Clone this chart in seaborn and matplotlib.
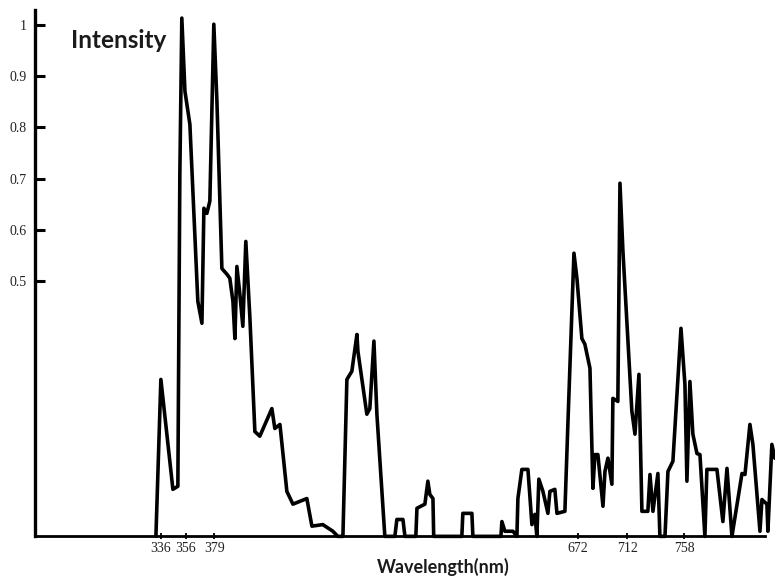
import matplotlib
matplotlib.use("Agg")
import matplotlib.pyplot as plt
import seaborn as sns
import pandas as pd

# ---- data ----
wavelength = [332.0, 336.0, 345.7, 349.7, 351.3, 352.9, 355.4, 359.4, 365.8, 369.1,
              370.7, 373.1, 375.5, 378.7, 381.2, 385.2, 389.2, 391.6, 394.1, 395.7,
              397.3, 399.7, 402.1, 404.5, 407.8, 411.8, 415.8, 425.5, 427.9, 432.0,
              437.6, 442.5, 453.7, 457.8, 466.6, 474.7, 478.7, 482.8, 486.0, 490.0,
              494.1, 494.9, 502.1, 504.5, 507.8, 510.2, 516.6, 524.7, 526.3, 531.2,
              532.8, 541.6, 542.5, 548.9, 551.3, 552.9, 555.4, 556.0, 578.7, 579.5,
              586.8, 587.6, 610.2, 611.0, 613.4, 619.9, 623.1, 623.9, 627.1, 632.0,
              635.2, 637.6, 639.2, 640.8, 644.1, 648.1, 649.7, 653.7, 655.4, 661.8,
              664.2, 669.1, 671.5, 675.5, 677.9, 682.0, 684.4, 686.0, 688.4, 692.5,
              694.1, 696.5, 699.7, 700.5, 704.5, 706.2, 708.6, 715.8, 718.3, 721.5,
              723.9, 728.7, 730.4, 732.8, 736.8, 738.4, 742.5, 744.9, 748.9, 755.4,
              758.6, 760.2, 762.6, 765.0, 768.3, 770.7, 774.7, 776.3, 784.4, 789.2,
              792.5, 796.5, 804.6, 807.0, 811.0, 813.4, 819.1, 820.7, 824.7, 825.5,
              828.7, 831.1]
intensity = [0.0, 0.307, 0.092, 0.098, 0.708, 1.014, 0.871, 0.806, 0.460, 0.417,
             0.642, 0.632, 0.656, 1.002, 0.851, 0.524, 0.513, 0.505, 0.460, 0.387,
             0.528, 0.474, 0.411, 0.577, 0.427, 0.205, 0.196, 0.250, 0.211, 0.219,
             0.088, 0.063, 0.074, 0.020, 0.023, 0.010, 0.0, 0.0, 0.307, 0.323,
             0.395, 0.362, 0.239, 0.250, 0.382, 0.239, 0.0, 0.0, 0.033, 0.033,
             0.0, 0.0, 0.055, 0.063, 0.108, 0.082, 0.074, 0.0, 0.0, 0.045,
             0.045, 0.0, 0.0, 0.029, 0.010, 0.010, 0.0, 0.074, 0.131, 0.131,
             0.023, 0.043, 0.0, 0.112, 0.088, 0.045, 0.088, 0.092, 0.045, 0.049,
             0.219, 0.554, 0.505, 0.387, 0.376, 0.329, 0.094, 0.160, 0.160, 0.059,
             0.127, 0.153, 0.102, 0.270, 0.264, 0.691, 0.558, 0.245, 0.200, 0.317,
             0.049, 0.049, 0.121, 0.049, 0.123, 0.0, 0.0, 0.127, 0.147, 0.407,
             0.297, 0.108, 0.303, 0.200, 0.162, 0.160, 0.0, 0.131, 0.131, 0.029,
             0.133, 0.0, 0.123, 0.121, 0.219, 0.180, 0.010, 0.072, 0.063, 0.010,
             0.180, 0.153]
x_ticks = [336, 356, 379, 672, 712, 758]
y_ticks = [0.5, 0.6, 0.7, 0.8, 0.9, 1.0]
y_tick_labels = ["0.5", "0.6", "0.7", "0.8", "0.9", "1"]
x_label = "Wavelength(nm)"
y_label = "Intensity"

df = pd.DataFrame({"wavelength": wavelength, "intensity": intensity})

sns.set_style("white")
plt.rcParams['font.family'] = ['Liberation Serif', 'DejaVu Serif']

fig = plt.figure(figsize=(7.75, 5.83), dpi=100)
ax = fig.add_axes([0.045, 0.080, 0.942, 0.903])

sns.lineplot(data=df, x="wavelength", y="intensity", ax=ax, color="black",
             linewidth=2.6, sort=False, estimator=None, clip_on=False,
             solid_joinstyle="round", solid_capstyle="round")

ax.set_xlim(234.4, 823.1)
ax.set_ylim(0, 1.03)
ax.set_xticks(x_ticks)
ax.set_xticklabels([str(v) for v in x_ticks])
ax.set_yticks(y_ticks)
ax.set_yticklabels(y_tick_labels)
ax.set_xlabel("")
ax.set_ylabel("")

for s in ["top", "right"]:
    ax.spines[s].set_visible(False)
ax.spines["left"].set_linewidth(2.4)
ax.spines["bottom"].set_linewidth(2.0)
ax.spines["left"].set_color("black")
ax.spines["bottom"].set_color("black")

ax.tick_params(axis="y", direction="in", length=7, width=2.2, labelsize=10,
               pad=6, colors="black", left=True)
ax.tick_params(axis="x", direction="inout", length=4, width=1.3, labelsize=10,
               pad=2, colors="black", bottom=True)
for lab in ax.get_xticklabels() + ax.get_yticklabels():
    lab.set_color("#222222")

fig.text(119 / 775, 1 - 40 / 583, y_label, ha="center", va="center",
         fontsize=17.5, fontweight="bold", family=["Lato", "DejaVu Sans"],
         color="#1a1a1a")
fig.text(443 / 775, 1 - 567 / 583, x_label, ha="center", va="center",
         fontsize=13, fontweight="bold", family=["Lato", "DejaVu Sans"],
         color="#1a1a1a")

fig.savefig("out.png", dpi=100, facecolor="white")
